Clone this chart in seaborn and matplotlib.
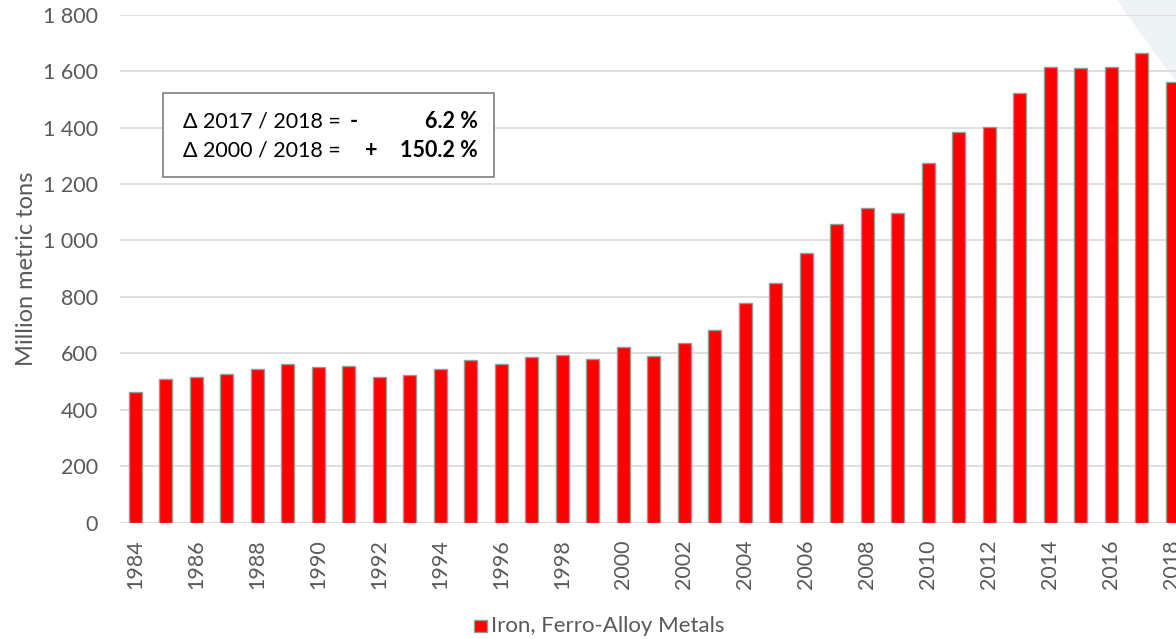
import matplotlib
matplotlib.use("Agg")
import matplotlib.pyplot as plt
from matplotlib.patches import Polygon, Rectangle
from matplotlib.ticker import FuncFormatter
import pandas as pd
import seaborn as sns

years = list(range(1984, 2019))
production = [
    463, 509, 515, 527, 546, 563, 553, 554, 518, 525,
    545, 575, 563, 588, 593, 581, 622, 591, 638, 683,
    780, 851, 955, 1058, 1114, 1097, 1276, 1383, 1403, 1524,
    1613, 1611, 1614, 1664, 1560,
]
series_name = "Iron, Ferro-Alloy Metals"
box_lines = [
    ("\u0394 2017 / 2018 =", "-", "6.2 %"),
    ("\u0394 2000 / 2018 =", "+", "150.2 %"),
]

W, H = 1176, 639
GREY = "#595959"


def fx(px):
    return px / W


def fy(py):
    return 1 - py / H


sns.set_style("white")
plt.rcParams["font.family"] = ["Lato", "DejaVu Sans"]

df = pd.DataFrame({"year": years, "value": production})

fig = plt.figure(figsize=(W / 100, H / 100), dpi=100)

# pale decorative triangle in the corner
fig.add_artist(Polygon([(fx(1117), fy(0)), (fx(1176), fy(0)), (fx(1176), fy(82))],
                       closed=True, transform=fig.transFigure,
                       facecolor="#edf2f5", edgecolor="none", zorder=-1))

ax = fig.add_axes([fx(120), fy(522.7), fx(1067.5), (522.7 - 14.7) / H])
ax.patch.set_alpha(0)

sns.barplot(data=df, x="year", y="value", color="#ff0000", saturation=1,
            width=0.41, edgecolor="#999999", linewidth=1, ax=ax, zorder=3)

ax.set_xlim(-0.5, len(years) - 0.5)
ax.set_ylim(0, 1800)
ax.set_yticks(range(0, 1801, 200))
ax.yaxis.set_major_formatter(FuncFormatter(lambda v, _: f"{v:,.0f}".replace(",", " ")))
ax.set_xticks(range(0, len(years), 2))
ax.set_xticklabels([str(y) for y in years[::2]], rotation=90)
ax.grid(axis="y", color="#d9d9d9", linewidth=1.2, zorder=0)
ax.set_axisbelow(True)
for s in ax.spines.values():
    s.set_visible(False)
ax.tick_params(axis="both", length=0, labelsize=15.5, labelcolor=GREY)
ax.tick_params(axis="y", pad=16)
ax.tick_params(axis="x", pad=12)
ax.set_xlabel("")
ax.set_ylabel("Million metric tons", fontsize=17, color=GREY, labelpad=4)

# annotation box
fig.add_artist(Rectangle((fx(163), fy(177.3)), fx(494 - 163), (177.3 - 93.3) / H,
                         transform=fig.transFigure, facecolor="white",
                         edgecolor="#7f7f7f", linewidth=1.2, zorder=5))
for (label, sign, pct), ypix, sx in zip(box_lines, [121, 150], [354, 371]):
    fig.text(fx(183), fy(ypix), label, fontsize=15.5, color="black",
             va="center", ha="left", zorder=6)
    fig.text(fx(sx), fy(ypix), sign, fontsize=15.5, color="black",
             fontweight="bold", va="center", ha="center", zorder=6)
    fig.text(fx(478), fy(ypix), pct, fontsize=15.5, color="black",
             fontweight="bold", va="center", ha="right", zorder=6)

# legend
fig.add_artist(Rectangle((fx(474), fy(632)), fx(12.5), 12.5 / H,
                         transform=fig.transFigure, facecolor="#ff0000",
                         edgecolor="#999999", linewidth=1, zorder=5))
fig.text(fx(491), fy(625.5), series_name, fontsize=16, color=GREY,
         va="center", ha="left")

fig.savefig("out.png", dpi=100)
